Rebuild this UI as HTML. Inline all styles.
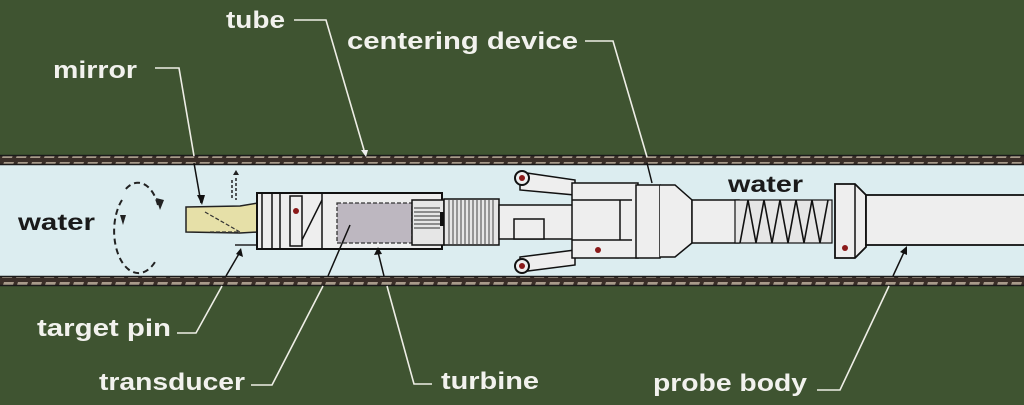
<!DOCTYPE html>
<html><head><meta charset="utf-8"><style>
html,body{margin:0;padding:0;background:#3f5431;}
svg{display:block}
text{font-family:"Liberation Sans",sans-serif;font-weight:bold;}
</style></head><body>
<svg width="1024" height="405" viewBox="0 0 1024 405" xmlns="http://www.w3.org/2000/svg">
<defs>
<pattern id="hatch" width="14" height="10" patternUnits="userSpaceOnUse">
<rect width="14" height="10" fill="#3a2e28"/>
<polygon points="2,8 12,8 14,2 4,2" fill="#a89a8a"/>
</pattern>
</defs>
<rect width="1024" height="405" fill="#3f5431"/>
<rect x="0" y="165" width="1024" height="112" fill="#dcedf0"/>
<rect x="0" y="155" width="1024" height="10" fill="url(#hatch)"/>
<rect x="0" y="276" width="1024" height="10" fill="url(#hatch)"/>
<line x1="0" y1="155.5" x2="1024" y2="155.5" stroke="#1a1a1a" stroke-width="1.5"/>
<line x1="0" y1="164.5" x2="1024" y2="164.5" stroke="#1a1a1a" stroke-width="1.5"/>
<line x1="0" y1="276.5" x2="1024" y2="276.5" stroke="#1a1a1a" stroke-width="1.5"/>
<line x1="0" y1="285.5" x2="1024" y2="285.5" stroke="#1a1a1a" stroke-width="1.5"/>

<text x="18" y="230" font-size="23" fill="#1a1a1a" textLength="77" lengthAdjust="spacingAndGlyphs">water</text>
<path d="M158,205 A22,38 0 0 0 125,190" fill="none" stroke="#222" stroke-width="2" stroke-dasharray="6,4"/>
<path d="M122,200 A22,38 0 0 0 155,262" fill="none" stroke="#222" stroke-width="2" stroke-dasharray="6,4"/>
<polygon points="156,198 164,200 160,210" fill="#222"/>
<polygon points="120,215 126,215 123,225" fill="#222"/>
<line x1="232" y1="180" x2="232" y2="198" stroke="#222" stroke-width="1.5" stroke-dasharray="3,2"/>
<line x1="236" y1="178" x2="236" y2="200" stroke="#222" stroke-width="1.5" stroke-dasharray="3,2"/>
<polygon points="233,175 239,175 236,170" fill="#222"/>

<path d="M186,207 L240,206 L258,203 L258,232 L240,233 L186,232 Z" fill="#e6e0a8" stroke="#222" stroke-width="1.5"/>
<path d="M205,212 L240,232 M210,232 L240,232" stroke="#333" stroke-width="1.2" stroke-dasharray="4,2" fill="none"/>
<line x1="235" y1="245" x2="258" y2="245" stroke="#222" stroke-width="1.5"/>

<rect x="257" y="193" width="185" height="56" fill="#eeeeee" stroke="#111" stroke-width="2"/>
<line x1="262" y1="193" x2="262" y2="249" stroke="#111" stroke-width="1.5"/>
<line x1="272" y1="193" x2="272" y2="249" stroke="#111" stroke-width="1.5"/>
<line x1="280" y1="193" x2="280" y2="249" stroke="#111" stroke-width="1.5"/>
<rect x="290" y="196" width="12" height="50" fill="none" stroke="#111" stroke-width="1.5"/>
<circle cx="296" cy="211" r="3" fill="#8b1a1a"/>
<line x1="302" y1="240" x2="322" y2="200" stroke="#111" stroke-width="1.5"/>
<line x1="322" y1="193" x2="322" y2="249" stroke="#111" stroke-width="1.5"/>
<rect x="337" y="203" width="75" height="40" fill="#bdb7c0" stroke="#333" stroke-width="1.3" stroke-dasharray="4,2"/>
<rect x="412" y="200" width="32" height="45" fill="#e6e6e6" stroke="#111" stroke-width="1.5"/>
<g stroke="#333" stroke-width="1">
<line x1="414" y1="208" x2="440" y2="208"/><line x1="414" y1="212" x2="440" y2="212"/><line x1="414" y1="216" x2="440" y2="216"/><line x1="414" y1="220" x2="440" y2="220"/><line x1="414" y1="224" x2="440" y2="224"/><line x1="414" y1="228" x2="440" y2="228"/>
</g>
<rect x="440" y="212" width="8" height="14" fill="#111"/>
<rect x="444" y="199" width="55" height="46" fill="#e6e6e6" stroke="#111" stroke-width="1.5"/>
<g stroke="#444" stroke-width="1">
<line x1="449" y1="200" x2="449" y2="244"/><line x1="453" y1="200" x2="453" y2="244"/><line x1="457" y1="200" x2="457" y2="244"/><line x1="461" y1="200" x2="461" y2="244"/><line x1="465" y1="200" x2="465" y2="244"/><line x1="469" y1="200" x2="469" y2="244"/><line x1="473" y1="200" x2="473" y2="244"/><line x1="477" y1="200" x2="477" y2="244"/><line x1="481" y1="200" x2="481" y2="244"/><line x1="485" y1="200" x2="485" y2="244"/><line x1="489" y1="200" x2="489" y2="244"/><line x1="493" y1="200" x2="493" y2="244"/>
</g>
<rect x="499" y="205" width="75" height="34" fill="#eeeeee" stroke="#111" stroke-width="1.5"/>
<path d="M520,172 L575,180 L575,195 L520,190 Z" fill="#eeeeee" stroke="#111" stroke-width="1.5"/>
<circle cx="522" cy="178" r="7" fill="#eee" stroke="#111" stroke-width="2"/>
<circle cx="522" cy="178" r="3" fill="#8b1a1a"/>
<path d="M520,257 L575,250 L575,265 L520,272 Z" fill="#eeeeee" stroke="#111" stroke-width="1.5"/>
<circle cx="522" cy="266" r="7" fill="#eee" stroke="#111" stroke-width="2"/>
<circle cx="522" cy="266" r="3" fill="#8b1a1a"/>
<rect x="514" y="219" width="30" height="20" fill="#eee" stroke="#111" stroke-width="1.5"/>
<rect x="572" y="183" width="66" height="75" fill="#eeeeee" stroke="#111" stroke-width="1.5"/>
<line x1="572" y1="200" x2="632" y2="200" stroke="#111" stroke-width="1.5"/>
<line x1="572" y1="240" x2="632" y2="240" stroke="#111" stroke-width="1.5"/>
<line x1="620" y1="200" x2="620" y2="240" stroke="#111" stroke-width="1.5"/>
<circle cx="598" cy="250" r="3" fill="#8b1a1a"/>
<circle cx="647" cy="249" r="3" fill="#8b1a1a"/>
<rect x="636" y="185" width="24" height="73" fill="#eeeeee" stroke="#111" stroke-width="1.5"/>
<line x1="668" y1="186" x2="668" y2="257" stroke="#111" stroke-width="1.5"/>
<path d="M660,185 L675,185 L692,200 L692,243 L675,257 L660,257" fill="#eeeeee" stroke="#111" stroke-width="1.5"/>
<rect x="692" y="200" width="47" height="43" fill="#eeeeee" stroke="#111" stroke-width="1.5"/>
<rect x="735" y="200" width="97" height="43" fill="#e6e6e6" stroke="#111" stroke-width="1.2"/>
<polyline points="740,243 748,200 756,243 764,200 772,243 780,200 788,243 796,200 804,243 812,200 820,243 828,200" fill="none" stroke="#111" stroke-width="1.6"/>
<text x="728" y="192" font-size="23" fill="#1a1a1a" textLength="75" lengthAdjust="spacingAndGlyphs">water</text>
<path d="M835,184 L855,184 L866,195 L866,247 L855,258 L835,258 Z" fill="#eeeeee" stroke="#111" stroke-width="1.8"/>
<line x1="855" y1="184" x2="855" y2="258" stroke="#111" stroke-width="1.5"/>
<circle cx="845" cy="248" r="3" fill="#8b1a1a"/>
<rect x="866" y="195" width="170" height="50" fill="#eeeeee" stroke="#111" stroke-width="1.8"/>

<g fill="#f2f2ee" font-size="24">
<text x="226" y="28" textLength="59" lengthAdjust="spacingAndGlyphs">tube</text>
<text x="347" y="49" textLength="231" lengthAdjust="spacingAndGlyphs">centering device</text>
<text x="53" y="78" textLength="84" lengthAdjust="spacingAndGlyphs">mirror</text>
<text x="37" y="336" textLength="134" lengthAdjust="spacingAndGlyphs">target pin</text>
<text x="99" y="390" textLength="146" lengthAdjust="spacingAndGlyphs">transducer</text>
<text x="441" y="389" textLength="98" lengthAdjust="spacingAndGlyphs">turbine</text>
<text x="653" y="391" textLength="154" lengthAdjust="spacingAndGlyphs">probe body</text>
</g>
<g fill="none" stroke="#eeeee6" stroke-width="1.6">
<polyline points="294,20 326,20 364,150"/>
<polyline points="585,41 613,41 647,157"/>
<polyline points="155,68 179,68 194,156"/>
<polyline points="177,333 196,333 222,286"/>
<polyline points="251,385 272,385 323,286"/>
<polyline points="432,384 414,384 387,286"/>
<polyline points="817,390 840,390 889,286"/>
</g>
<g fill="none" stroke="#111" stroke-width="1.5">
<line x1="194" y1="163" x2="201" y2="203"/>
<line x1="647" y1="163" x2="652" y2="183"/>
<line x1="226" y1="276" x2="240" y2="252"/>
<line x1="328" y1="276" x2="350" y2="225"/>
<line x1="384" y1="276" x2="378" y2="252"/>
<line x1="893" y1="276" x2="905" y2="250"/>
</g>
<polygon points="197,195 205,195 202,205" fill="#111"/>
<polygon points="236,254 243,257 241,248" fill="#111"/>
<polygon points="374,255 382,254 378,247" fill="#111"/>
<polygon points="900,252 907,255 907,246" fill="#111"/>
<polygon points="361,150 368,150 366,157" fill="#eee"/>
</svg>
</body></html>
